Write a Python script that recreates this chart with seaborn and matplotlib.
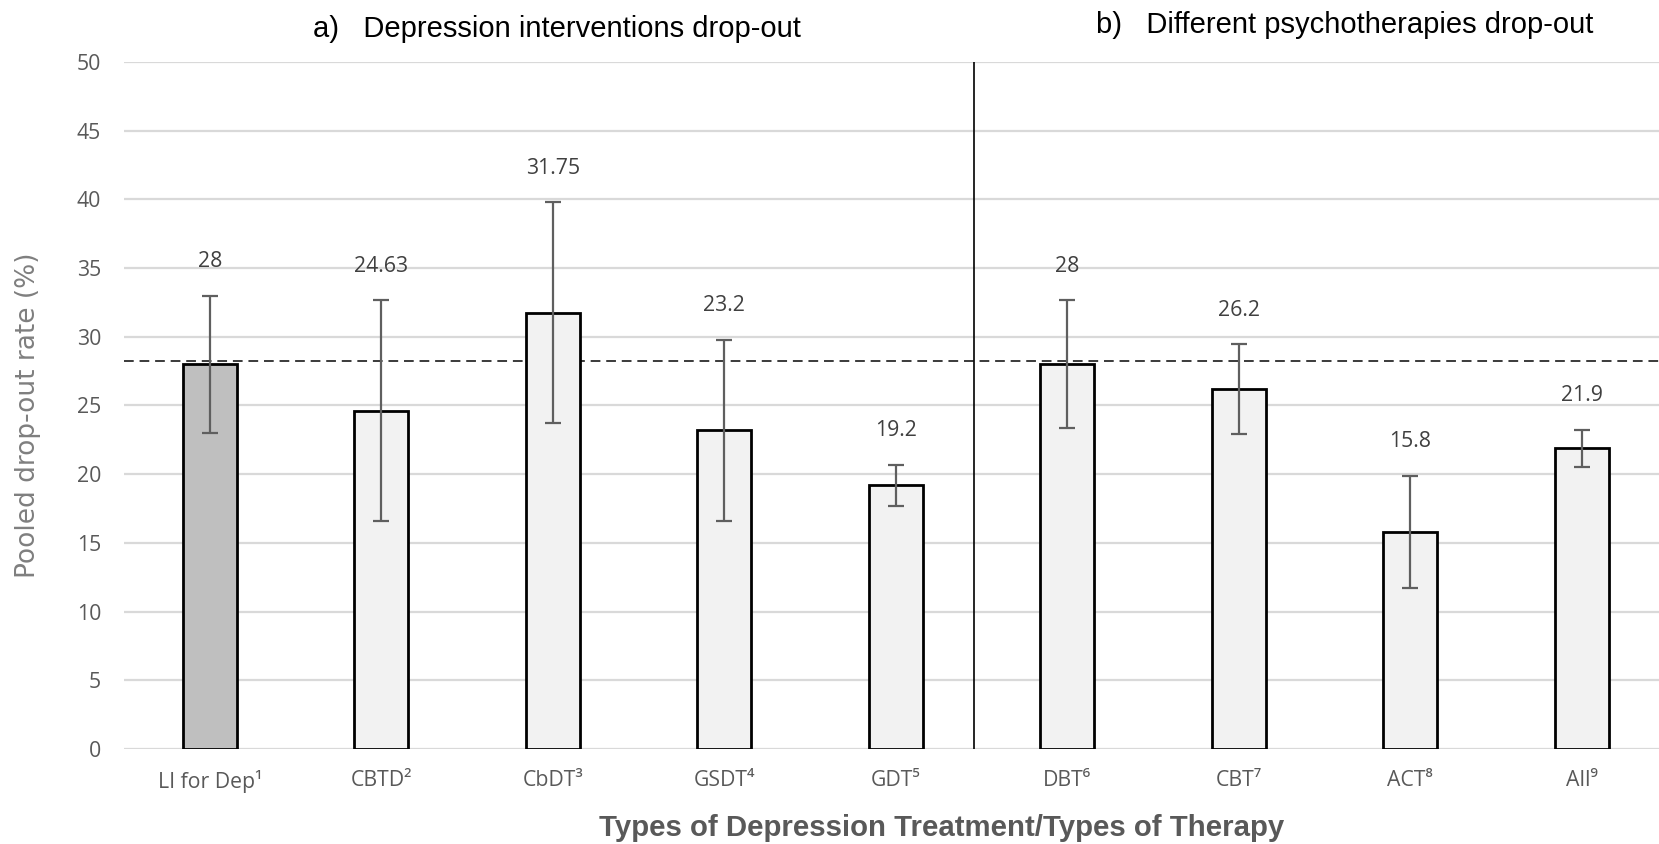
import matplotlib
matplotlib.use("Agg")
import matplotlib.pyplot as plt
import seaborn as sns
import pandas as pd
import numpy as np

# ---- data ----
categories = ["LI for Dep¹", "CBTD²", "CbDT³", "GSDT⁴", "GDT⁵", "DBT⁶", "CBT⁷", "ACT⁸", "All⁹"]
values = [28, 24.63, 31.75, 23.2, 19.2, 28, 26.2, 15.8, 21.9]
value_labels = ["28", "24.63", "31.75", "23.2", "19.2", "28", "26.2", "15.8", "21.9"]
ci_upper = [33.0, 32.7, 39.8, 29.8, 20.7, 32.65, 29.5, 19.9, 23.25]
ci_lower = [23.0, 16.6, 23.7, 16.6, 17.7, 23.35, 22.9, 11.7, 20.55]
highlight = [True, False, False, False, False, False, False, False, False]
reference_rate = 28.26
yticks = [0, 5, 10, 15, 20, 25, 30, 35, 40, 45, 50]
title_a = "a)   Depression interventions drop-out"
title_b = "b)   Different psychotherapies drop-out"
xlabel = "Types of Depression Treatment/Types of Therapy"
ylabel = "Pooled drop-out rate (%)"

df = pd.DataFrame({"cat": categories, "val": values,
                   "grp": ["hl" if h else "n" for h in highlight]})

sns.set_theme(style="white")
plt.rcParams['font.family'] = ['Open Sans', 'DejaVu Sans']

fig = plt.figure(figsize=(16.59, 8.44), dpi=100)
ax = fig.add_axes([124/1659, 1 - 749/844, 1 - 124/1659, (749 - 62)/844])

sns.barplot(data=df, x="cat", y="val", hue="grp",
            palette={"hl": "#bfbfbf", "n": "#f2f2f2"},
            dodge=False, width=0.317, edgecolor="black", linewidth=2.0,
            legend=False, ax=ax, zorder=3)

x = np.arange(len(categories))
vals = np.array(values)
yerr = np.vstack([vals - np.array(ci_lower), np.array(ci_upper) - vals])
ax.errorbar(x, vals, yerr=yerr, fmt="none", ecolor="#5f5f5f",
            elinewidth=1.6, capsize=5.5, capthick=1.6, zorder=4)

for xi, up, lab in zip(x, ci_upper, value_labels):
    ax.text(xi, up + 2.45, lab, ha="center", va="center",
            fontsize=15.3, color="#404040", zorder=5)

ax.set_ylim(0, 50)
ax.set_xlim(-0.5, 8.45)
ax.set_yticks(yticks)
ax.yaxis.grid(True, color="#d9d9d9", linewidth=1.6, zorder=0)
ax.set_axisbelow(True)
for s in ax.spines.values():
    s.set_visible(False)

ax.axhline(reference_rate, color="#3a3a3a", linestyle=(0, (5, 3)),
           linewidth=1.4, zorder=2)
ax.vlines(4.458, 0, 50, color="black", linewidth=1.2, zorder=2)

ax.tick_params(axis="y", length=0, pad=16.5, labelsize=15.3, labelcolor="#595959")
ax.tick_params(axis="x", length=0, pad=15, labelsize=15.3, labelcolor="#595959")
for lab in ax.get_xticklabels():
    lab.set_fontfamily(['Open Sans', 'DejaVu Sans'])

ax.set_xlabel("")
ax.set_ylabel("")
fig.text(942/1659, 1 - 828/844, xlabel, ha="center", va="center",
         fontsize=21.2, fontweight="bold", color="#595959",
         family=['Liberation Sans', 'DejaVu Sans'])
fig.text(28/1659, 1 - 415/844, ylabel, ha="center", va="center",
         rotation=90, fontsize=19, color="#7f7f7f",
         family=['DejaVu Sans'])
fig.text(557/1659, 1 - 29/844, title_a, ha="center", va="center",
         fontsize=21, color="black",
         family=['Liberation Sans', 'DejaVu Sans'])
fig.text(1345/1659, 1 - 25/844, title_b, ha="center", va="center",
         fontsize=21, color="black",
         family=['Liberation Sans', 'DejaVu Sans'])

fig.savefig("out.png", dpi=100)
